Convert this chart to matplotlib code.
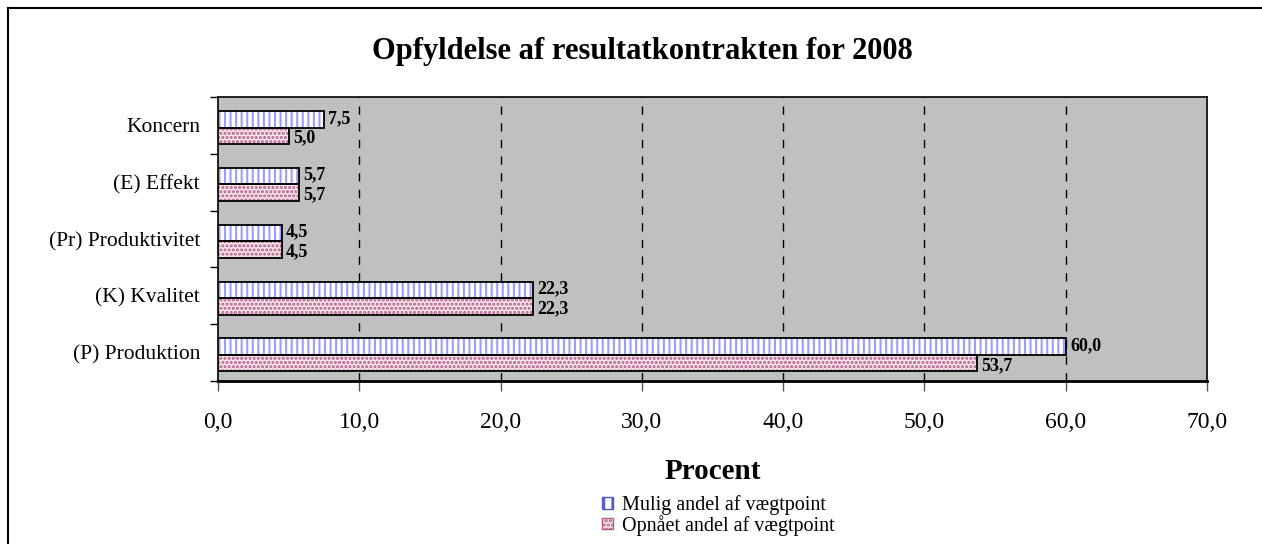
import numpy as np
import matplotlib
matplotlib.use("Agg")
import matplotlib.pyplot as plt
from matplotlib.lines import Line2D
from matplotlib.patches import Patch

categories = ["(P) Produktion", "(K) Kvalitet", "(Pr) Produktivitet", "(E) Effekt", "Koncern"]
mulig = [60.0, 22.3, 4.5, 5.7, 7.5]
opnaaet = [53.7, 22.3, 4.5, 5.7, 5.0]
series_names = ["Mulig andel af vægtpoint", "Opnået andel af vægtpoint"]
xticks = [0, 10, 20, 30, 40, 50, 60, 70]

plt.rcParams["font.family"] = ["Liberation Serif", "DejaVu Serif"]
plt.rcParams["hatch.linewidth"] = 1.5

fig = plt.figure(figsize=(12.62, 5.44), dpi=100)
ax = fig.add_axes([218 / 1262, 1 - 381 / 544, (1207 - 218) / 1262, (381 - 97) / 544])
ax.set_facecolor("#c0c0c0")

y = np.arange(len(categories))
h = 0.29
off = -0.04
y_m = y + off + h / 2
y_o = y + off - h / 2

# hatch layer, then a black outline on top
ax.barh(y_m, mulig, height=h, color="white", edgecolor="#9d9dff", hatch="|||", linewidth=0, zorder=3)
ax.barh(y_m, mulig, height=h, facecolor="none", edgecolor="black", linewidth=1.3, zorder=4)
ax.barh(y_o, opnaaet, height=h, color="#f6e4ec", edgecolor="#b35a86", hatch="....", linewidth=0, zorder=3)
ax.barh(y_o, opnaaet, height=h, facecolor="none", edgecolor="black", linewidth=1.3, zorder=4)

for yy, v in zip(y_m, mulig):
    ax.text(v + 0.3, yy + 0.02, f"{v:.1f}".replace(".", ","), fontsize=13, fontweight="bold",
            va="center", ha="left", zorder=5)
for yy, v in zip(y_o, opnaaet):
    ax.text(v + 0.3, yy - 0.04, f"{v:.1f}".replace(".", ","), fontsize=13, fontweight="bold",
            va="center", ha="left", zorder=5)

ax.set_xlim(0, 70)
ax.set_ylim(-0.5, len(categories) - 0.5)
ax.set_xticks(xticks)
ax.set_xticklabels([f"{t:.1f}".replace(".", ",") for t in xticks], fontsize=17)
ax.tick_params(axis="x", length=7, width=1, pad=15, color="#555555")
ax.set_yticks(y)
ax.set_yticklabels(categories, fontsize=15.5)
ax.tick_params(axis="y", length=0, pad=13)
ax.set_yticks(np.arange(-0.5, len(categories), 1), minor=True)
ax.tick_params(axis="y", which="minor", length=6, width=1)
for xv in xticks[1:-1]:
    ax.axvline(xv, color="black", linestyle=(0, (6, 6)), linewidth=1, zorder=1)
for s in ax.spines.values():
    s.set_linewidth(1.2)
ax.spines["bottom"].set_linewidth(2)

ax.set_xlabel("Procent", fontsize=21, fontweight="bold", labelpad=18)
fig.text(642 / 1262, 1 - 51 / 544, "Opfyldelse af resultatkontrakten for 2008",
         fontsize=22, fontweight="bold", ha="center", va="center")

handles = [
    Patch(facecolor="white", edgecolor="#5555cc", hatch="||"),
    Patch(facecolor="#f6e4ec", edgecolor="#b35a86", hatch="...."),
]
leg = fig.legend(handles, series_names, loc="upper left", bbox_to_anchor=(594 / 1262, 1 - 487 / 544),
                 frameon=False, fontsize=14.5, handlelength=0.55, handleheight=0.5,
                 handletextpad=0.45, labelspacing=0.0, borderaxespad=0)
for p in leg.get_patches():
    p.set_linewidth(1)

# chart border (left and top, partly cut in the source)
fig.add_artist(Line2D([8 / 1262, 8 / 1262], [0, 1 - 8 / 544], color="black", linewidth=1.5,
                      transform=fig.transFigure))
fig.add_artist(Line2D([8 / 1262, 1], [1 - 8 / 544, 1 - 8 / 544], color="black", linewidth=1.5,
                      transform=fig.transFigure))

fig.savefig("out.png", dpi=100)
